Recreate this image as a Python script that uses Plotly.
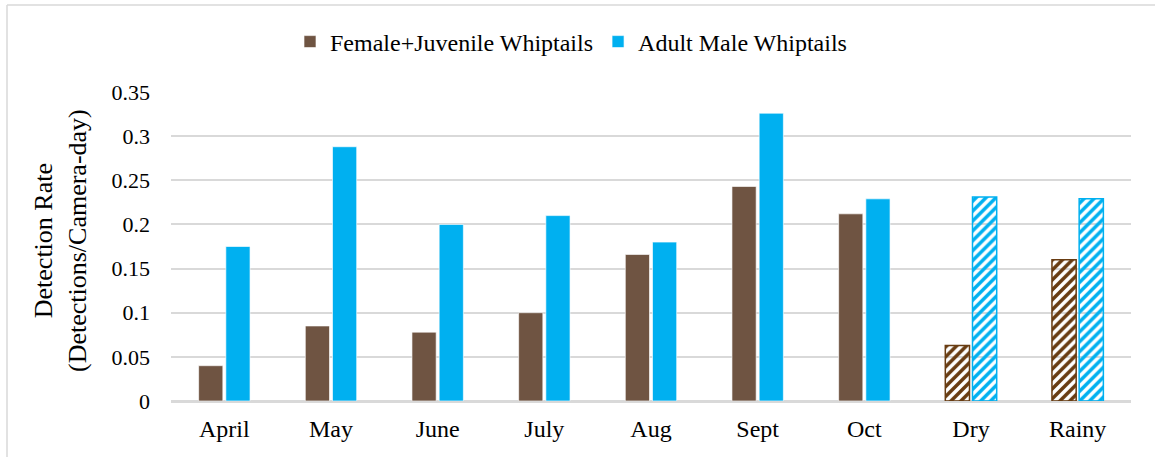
import plotly.graph_objects as go

# Detection rates per month and per season
categories = ["April", "May", "June", "July", "Aug", "Sept", "Oct", "Dry", "Rainy"]
female_juvenile = [0.040, 0.085, 0.078, 0.100, 0.166, 0.243, 0.212, 0.063, 0.160]
adult_male = [0.175, 0.288, 0.200, 0.210, 0.180, 0.326, 0.229, 0.231, 0.229]
y_ticks = [0, 0.05, 0.1, 0.15, 0.2, 0.25, 0.3, 0.35]

seasons = {"Dry", "Rainy"}

BROWN = "#6f5442"
BROWN_DARK = "#683c12"
BLUE = "#00b0f0"
GRID = "#d9d9d9"
FONT = "Liberation Serif"

# Plot-area geometry in pixels (used for the frame and title placement)
W, H = 1155, 457
L, R, T, B = 171, 24, 92, 56
PW, PH = W - L - R, H - T - B


def px_x(px):
    return (px - L) / PW


def px_y(py):
    return (H - B - py) / PH


def bar_style(solid, hatch_color):
    is_season = [c in seasons for c in categories]
    return dict(
        color=[hatch_color if s else solid for s in is_season],
        pattern=dict(
            shape=["/" if s else "" for s in is_season],
            fgcolor=[hatch_color if s else solid for s in is_season],
            bgcolor=["white" if s else solid for s in is_season],
            fillmode="replace",
            size=7,
            solidity=0.5,
        ),
        line=dict(
            color=[hatch_color if s else "rgba(255,255,255,0.8)" for s in is_season],
            width=[1.5 if s else 0.8 for s in is_season],
        ),
    )


fig = go.Figure()
fig.add_trace(go.Bar(
    x=categories, y=female_juvenile, name="Female+Juvenile Whiptails",
    marker=bar_style(BROWN, BROWN_DARK),
))
fig.add_trace(go.Bar(
    x=categories, y=adult_male, name="Adult Male Whiptails",
    marker=bar_style(BLUE, BLUE),
))

fig.update_layout(
    width=W, height=H,
    margin=dict(l=L, r=R, t=T, b=B, autoexpand=False),
    paper_bgcolor="white", plot_bgcolor="white",
    barmode="group", bargap=0.49, bargroupgap=0.11,
    font=dict(family=FONT, size=22, color="black"),
    showlegend=True,
    legend=dict(
        orientation="h", x=px_x(290), xanchor="left",
        y=px_y(42), yanchor="middle",
        font=dict(size=24), bgcolor="rgba(0,0,0,0)",
    ),
    xaxis=dict(
        showgrid=False, showline=True, linecolor=GRID, linewidth=1.5,
        ticks="", tickfont=dict(size=24), ticklabelstandoff=5,
    ),
    yaxis=dict(
        range=[0, 0.35], tickvals=y_ticks,
        showgrid=True, gridcolor=GRID, gridwidth=1.5,
        zeroline=True, zerolinecolor=GRID, zerolinewidth=1.5,
        showline=False, ticks="", tickfont=dict(size=22),
        ticklabelstandoff=20,
    ),
    annotations=[dict(
        text="Detection Rate<br>(Detections/Camera-day)",
        xref="paper", yref="paper", x=px_x(60), y=px_y(241),
        xanchor="center", yanchor="middle", textangle=-90,
        showarrow=False, font=dict(size=26),
    )],
    shapes=[
        dict(type="line", xref="paper", yref="paper",
             x0=px_x(7), x1=px_x(W + 5), y0=px_y(5), y1=px_y(5),
             line=dict(color=GRID, width=1.5)),
        dict(type="line", xref="paper", yref="paper",
             x0=px_x(7), x1=px_x(7), y0=px_y(5), y1=px_y(H + 5),
             line=dict(color=GRID, width=1.5)),
    ],
)

fig.write_html("out.html")
